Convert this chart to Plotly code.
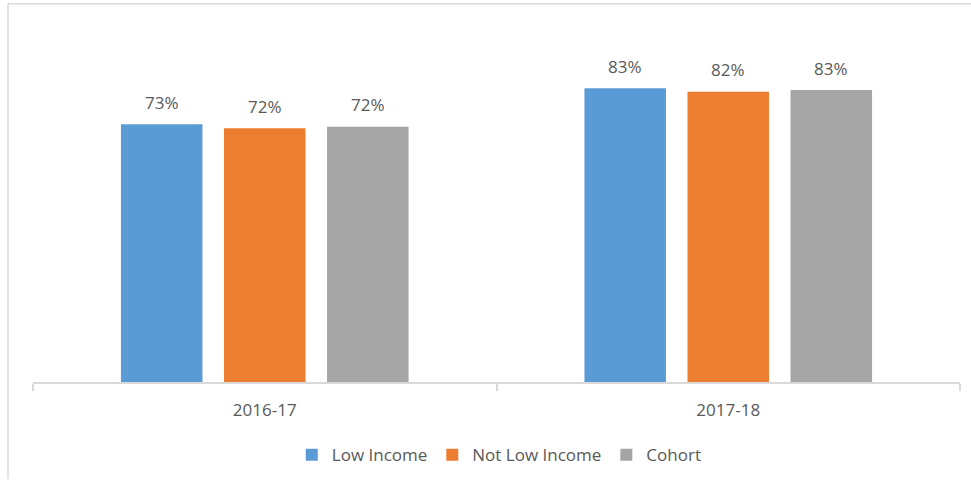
import plotly.graph_objects as go

categories = ["2016-17", "2017-18"]
series_names = ["Low Income", "Not Low Income", "Cohort"]
low_income = [73.0, 83.2]
not_low_income = [71.9, 82.2]
cohort = [72.3, 82.7]
label_low_income = ["73%", "83%"]
label_not_low_income = ["72%", "82%"]
label_cohort = ["72%", "83%"]

values = [low_income, not_low_income, cohort]
labels = [label_low_income, label_not_low_income, label_cohort]
colors = ["#5B9BD5", "#ED7D31", "#A5A5A5"]
text_color = "#595959"
line_color = "#D9D9D9"
FONT = "Open Sans"

W, H = 971, 484
ml, mr, mt, mb = 33, 11, 29, 98
pw = W - ml - mr
ph = H - mt - mb

fig = go.Figure()
for name, vals, col in zip(series_names, values, colors):
    fig.add_trace(go.Bar(
        x=categories, y=vals, name=name,
        marker=dict(color=col, line=dict(width=0)),
        hoverinfo="skip",
    ))

annotations = []
slot_px = 103
for i, (vals, labs) in enumerate(zip(values, labels)):
    for cat, v, lab in zip(categories, vals, labs):
        annotations.append(dict(
            x=cat, y=v, xref="x", yref="y", text=lab, showarrow=False,
            xshift=(i - 1) * slot_px, yshift=22, yanchor="middle",
            font=dict(family=FONT, size=17, color=text_color),
        ))

# chart frame (top and left border lines)
x_left = (8 - ml) / pw
x_right = (W - ml) / pw
y_top = (H - mb - 3.5) / ph
y_bottom = (H - mb - H) / ph
shapes = [
    dict(type="line", xref="paper", yref="paper", x0=x_left, x1=x_right,
         y0=y_top, y1=y_top, line=dict(color=line_color, width=1.5)),
    dict(type="line", xref="paper", yref="paper", x0=x_left, x1=x_left,
         y0=y_top, y1=y_bottom, line=dict(color=line_color, width=1.5)),
]

legend_y = (H - mb - 460) / ph

fig.update_layout(
    width=W, height=H,
    margin=dict(l=ml, r=mr, t=mt, b=mb, pad=0),
    paper_bgcolor="white", plot_bgcolor="white",
    barmode="group", bargap=0.333, bargroupgap=0.209,
    font=dict(family=FONT, size=17, color=text_color),
    showlegend=True,
    legend=dict(
        orientation="h", x=0.503, xanchor="center", y=legend_y, yanchor="middle",
        font=dict(family=FONT, size=17, color=text_color),
        itemwidth=30, traceorder="normal",
    ),
    annotations=annotations,
    shapes=shapes,
    xaxis=dict(
        type="category", showline=True, linecolor=line_color, linewidth=1.5,
        ticks="outside", tickson="boundaries", ticklen=7, tickcolor=line_color,
        tickwidth=1.5, showgrid=False, zeroline=False, ticklabelstandoff=12,
        tickfont=dict(family=FONT, size=17, color=text_color),
    ),
    yaxis=dict(visible=False, range=[0, 100], showgrid=False, zeroline=False),
)

fig.write_html(
    "out.html",
    config={"displayModeBar": False},
    post_script="document.body.style.margin='0';document.body.style.padding='0';",
)
